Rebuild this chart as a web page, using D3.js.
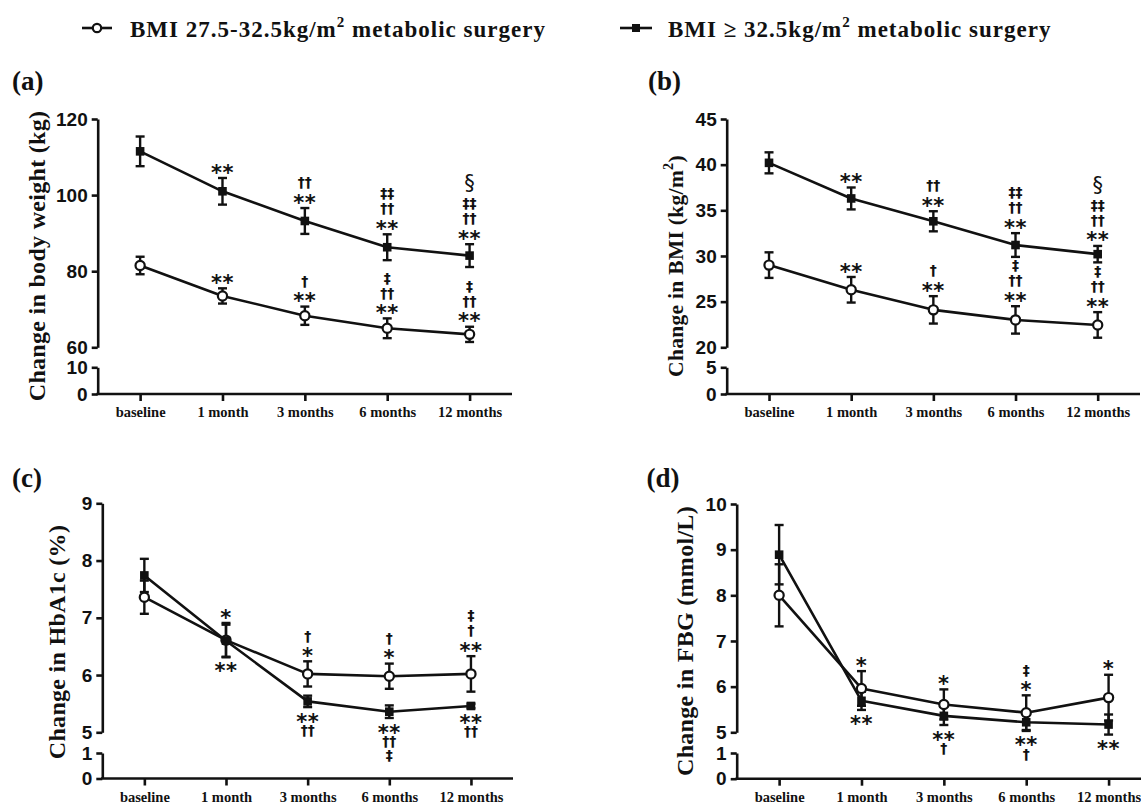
<!DOCTYPE html>
<html><head><meta charset="utf-8">
<script src="https://cdn.jsdelivr.net/npm/d3@7"></script>
<style>body{margin:0;background:#fff}</style>
</head><body>
<svg id="chart" width="1141" height="805"></svg>
<script>
// ---------- data ----------
const categories = ["baseline", "1 month", "3 months", "6 months", "12 months"];
const seriesNames = ["BMI 27.5-32.5kg/m", "BMI \u2265 32.5kg/m"];

const weightLow = [81.5, 73.5, 68.3, 65.0, 63.4];
const weightLowSD = [2.3, 2.0, 2.4, 2.6, 2.0];
const weightHigh = [111.5, 101.0, 93.2, 86.3, 84.1];
const weightHighSD = [3.9, 3.5, 3.4, 3.4, 3.0];

const bmiLow = [29.0, 26.3, 24.1, 23.0, 22.45];
const bmiLowSD = [1.4, 1.4, 1.5, 1.5, 1.4];
const bmiHigh = [40.2, 36.3, 33.8, 31.2, 30.2];
const bmiHighSD = [1.15, 1.2, 1.1, 1.3, 0.9];

const hbLow = [7.36, 6.61, 6.02, 5.98, 6.02];
const hbLowSD = [0.29, 0.3, 0.22, 0.22, 0.31];
const hbHigh = [7.74, 6.60, 5.54, 5.36, 5.46];
const hbHighSD = [0.29, 0.28, 0.1, 0.11, 0.04];

const fbgLow = [8.0, 5.96, 5.61, 5.43, 5.76];
const fbgLowSD = [0.68, 0.38, 0.33, 0.38, 0.5];
const fbgHigh = [8.89, 5.69, 5.36, 5.22, 5.17];
const fbgHighSD = [0.65, 0.2, 0.2, 0.19, 0.22];

// significance marks (nearest to the error bar first)
const weightLowMarks = [[], ["**"], ["**", "\u2020"], ["**", "\u2020\u2020", "\u2021"], ["**", "\u2020\u2020", "\u2021"]];
const weightHighMarks = [[], ["**"], ["**", "\u2020\u2020"], ["**", "\u2020\u2020", "\u2021\u2021"], ["**", "\u2020\u2020", "\u2021\u2021", "\u00a7"]];
const bmiLowMarks = weightLowMarks;
const bmiHighMarks = weightHighMarks;
const hbLowMarks = [[], ["*"], ["*", "\u2020"], ["*", "\u2020"], ["**", "\u2020", "\u2021"]];
const hbHighMarks = [[], ["**"], ["**", "\u2020\u2020"], ["**", "\u2020\u2020", "\u2021"], ["**", "\u2020\u2020"]];
const fbgLowMarks = [[], ["*"], ["*"], ["*", "\u2021"], ["*"]];
const fbgHighMarks = [[], ["**"], ["**", "\u2020"], ["**", "\u2020"], ["**"]];

// axis ticks
const weightTicksUpper = [60, 80, 100, 120], weightTicksLower = [0, 10];
const bmiTicksUpper = [20, 25, 30, 35, 40, 45], bmiTicksLower = [0, 5];
const hbTicksUpper = [5, 6, 7, 8, 9], hbTicksLower = [0, 1];
const fbgTicksUpper = [5, 6, 7, 8, 9, 10], fbgTicksLower = [0, 1];

// ---------- layout ----------
const INK = "#111";
const svg = d3.select("#chart");
svg.append("rect").attr("width", 1141).attr("height", 805).attr("fill", "#fff");

const panels = [
  {label: "(a)", lx: 12, ly: 90, title: ["Change in body weight (kg)"], tx: 45, ty: 256, tfs: 24,
   ax: 97.7, xEnd: 512, yTop: 119, yBT: 347.3, yBB: 367.3, yBot: 394,
   upper: [60, 120], lower: [0, 10], tu: weightTicksUpper, tl: weightTicksLower,
   low: weightLow, lowSD: weightLowSD, high: weightHigh, highSD: weightHighSD,
   lowMarks: weightLowMarks, lowDir: -1, highMarks: weightHighMarks, highDir: -1},
  {label: "(b)", lx: 648, ly: 90, title: ["Change in BMI (kg/m", "2", ")"], tx: 683, ty: 266, tfs: 21.5,
   ax: 726.7, xEnd: 1140, yTop: 119, yBT: 347.3, yBB: 367.3, yBot: 394,
   upper: [20, 45], lower: [0, 5], tu: bmiTicksUpper, tl: bmiTicksLower,
   low: bmiLow, lowSD: bmiLowSD, high: bmiHigh, highSD: bmiHighSD,
   lowMarks: bmiLowMarks, lowDir: -1, highMarks: bmiHighMarks, highDir: -1},
  {label: "(c)", lx: 12, ly: 486.5, title: ["Change in HbA1c (%)"], tx: 65, ty: 642, tfs: 24,
   ax: 102.3, xEnd: 513, yTop: 503.3, yBT: 732.3, yBB: 753, yBot: 778.5,
   upper: [5, 9], lower: [0, 1], tu: hbTicksUpper, tl: hbTicksLower,
   low: hbLow, lowSD: hbLowSD, high: hbHigh, highSD: hbHighSD,
   lowMarks: hbLowMarks, lowDir: -1, highMarks: hbHighMarks, highDir: 1},
  {label: "(d)", lx: 646.5, ly: 486.5, title: ["Change in FBG (mmol/L)"], tx: 693, ty: 641, tfs: 24,
   ax: 736.7, xEnd: 1151, yTop: 504, yBT: 732.3, yBB: 753, yBot: 778.7,
   upper: [5, 10], lower: [0, 1], tu: fbgTicksUpper, tl: fbgTicksLower,
   low: fbgLow, lowSD: fbgLowSD, high: fbgHigh, highSD: fbgHighSD,
   lowMarks: fbgLowMarks, lowDir: -1, highMarks: fbgHighMarks, highDir: 1}
];

function styleAxis(sel) {
  sel.select(".domain").attr("stroke", INK).attr("stroke-width", 2.6);
  sel.selectAll(".tick line").attr("stroke", INK).attr("stroke-width", 2.6);
}

function drawMarks(g, x, y, vals, sds, marks, dir) {
  vals.forEach((v, i) => {
    const list = marks[i];
    if (!list.length) return;
    let c = dir < 0 ? y(v + sds[i]) - 10 : y(v - sds[i]) + 10;
    list.forEach((s, j) => {
      if (j > 0) c += dir * (s === "\u00a7" ? 20 : (dir < 0 ? 15 : 14));
      const star = s.includes("*");
      const fs = star ? 21 : (s === "\u00a7" ? 21 : 14);
      const k = star ? 0.55 : 0.3;
      g.append("text")
        .attr("x", x(categories[i]))
        .attr("y", c + k * fs)
        .attr("text-anchor", "middle")
        .attr("font-family", "'DejaVu Sans', sans-serif")
        .attr("font-weight", s === "\u00a7" ? "normal" : "bold")
        .attr("font-size", fs)
        .attr("letter-spacing", star ? 0.5 : 0)
        .attr("fill", INK)
        .text(s);
    });
  });
}

panels.forEach(p => {
  const g = svg.append("g");
  const x = d3.scalePoint().domain(categories).range([p.ax, p.xEnd]).padding(0.515);
  const yU = d3.scaleLinear().domain(p.upper).range([p.yBT, p.yTop]);
  const yL = d3.scaleLinear().domain(p.lower).range([p.yBot, p.yBB]);
  const fmt = d3.format("d");

  // axes
  const au = g.append("g").attr("transform", `translate(${p.ax},0)`)
    .call(d3.axisLeft(yU).tickValues(p.tu).tickFormat(fmt).tickSize(6).tickSizeOuter(0).tickPadding(4));
  const al = g.append("g").attr("transform", `translate(${p.ax},0)`)
    .call(d3.axisLeft(yL).tickValues(p.tl).tickFormat(fmt).tickSize(6).tickSizeOuter(0).tickPadding(4));
  [au, al].forEach(a => {
    styleAxis(a);
    a.selectAll(".tick text").attr("font-family", "'Liberation Sans', Arial, sans-serif")
      .attr("font-weight", "bold").attr("font-size", 19).attr("fill", INK);
  });
  const axb = g.append("g").attr("transform", `translate(0,${p.yBot})`)
    .call(d3.axisBottom(x).tickSize(7).tickSizeOuter(0).tickPadding(6));
  styleAxis(axb);
  axb.select(".domain").attr("d", `M${p.ax - 1.3},0H${p.xEnd}`);
  axb.selectAll(".tick text").attr("font-family", "'Liberation Serif', 'Times New Roman', serif")
    .attr("font-weight", "bold").attr("font-size", 14.5).attr("fill", INK);

  // panel label
  svg.append("text").attr("x", p.lx).attr("y", p.ly)
    .attr("font-family", "'Liberation Serif', 'Times New Roman', serif")
    .attr("font-weight", "bold").attr("font-size", 27).attr("fill", INK).text(p.label);

  // y title
  const t = svg.append("text").attr("transform", `translate(${p.tx},${p.ty}) rotate(-90)`)
    .attr("text-anchor", "middle")
    .attr("font-family", "'Liberation Serif', 'Times New Roman', serif")
    .attr("font-weight", "bold").attr("font-size", p.tfs).attr("letter-spacing", 0.3).attr("fill", INK);
  t.append("tspan").text(p.title[0]);
  if (p.title.length > 1) {
    t.append("tspan").attr("font-size", 14).attr("dy", -10).text(p.title[1]);
    t.append("tspan").attr("dy", 10).text(p.title[2]);
  }

  // series
  const series = [
    {v: p.low, sd: p.lowSD, type: "circle"},
    {v: p.high, sd: p.highSD, type: "square"}
  ];
  const line = d3.line().x((d, i) => x(categories[i])).y(d => yU(d));
  series.forEach(s => {
    g.append("path").attr("d", line(s.v)).attr("fill", "none")
      .attr("stroke", INK).attr("stroke-width", 2.6).attr("stroke-linejoin", "round");
  });
  series.forEach(s => {
    s.v.forEach((v, i) => {
      const cx = x(categories[i]);
      const y1 = yU(v + s.sd[i]), y2 = yU(v - s.sd[i]);
      g.append("line").attr("x1", cx).attr("x2", cx).attr("y1", y1).attr("y2", y2)
        .attr("stroke", INK).attr("stroke-width", 2.4);
      [y1, y2].forEach(yy => g.append("line").attr("x1", cx - 4.5).attr("x2", cx + 4.5)
        .attr("y1", yy).attr("y2", yy).attr("stroke", INK).attr("stroke-width", 2.4));
    });
  });
  series.forEach(s => {
    s.v.forEach((v, i) => {
      const cx = x(categories[i]), cy = yU(v);
      if (s.type === "circle") {
        g.append("circle").attr("cx", cx).attr("cy", cy).attr("r", 4.6)
          .attr("fill", "#fff").attr("stroke", INK).attr("stroke-width", 2.2);
      } else {
        g.append("rect").attr("x", cx - 4.3).attr("y", cy - 4.3).attr("width", 8.6).attr("height", 8.6)
          .attr("fill", INK);
      }
    });
  });

  drawMarks(g, x, yU, p.low, p.lowSD, p.lowMarks, p.lowDir);
  drawMarks(g, x, yU, p.high, p.highSD, p.highMarks, p.highDir);
});

// ---------- legend ----------
const legendFont = "'Liberation Serif', 'Times New Roman', serif";
const leg = [
  {x1: 82, x2: 112, tx: 130, type: "circle", name: seriesNames[0]},
  {x1: 620, x2: 652, tx: 668, type: "square", name: seriesNames[1]}
];
leg.forEach(l => {
  const cx = (l.x1 + l.x2) / 2;
  svg.append("line").attr("x1", l.x1).attr("x2", l.x2).attr("y1", 28).attr("y2", 28)
    .attr("stroke", INK).attr("stroke-width", 2.6);
  if (l.type === "circle") {
    svg.append("circle").attr("cx", cx).attr("cy", 28).attr("r", 4.2)
      .attr("fill", "#fff").attr("stroke", INK).attr("stroke-width", 2.2);
  } else {
    svg.append("rect").attr("x", cx - 4).attr("y", 24).attr("width", 8).attr("height", 8).attr("fill", INK);
  }
  const t = svg.append("text").attr("x", l.tx).attr("y", 37)
    .attr("font-family", legendFont).attr("font-weight", "bold").attr("font-size", 23)
    .attr("letter-spacing", 1).attr("fill", INK);
  t.append("tspan").text(l.name);
  t.append("tspan").attr("font-size", 15).attr("dy", -10).text("2");
  t.append("tspan").attr("dy", 10).text(" metabolic surgery");
});
</script>
</body></html>
